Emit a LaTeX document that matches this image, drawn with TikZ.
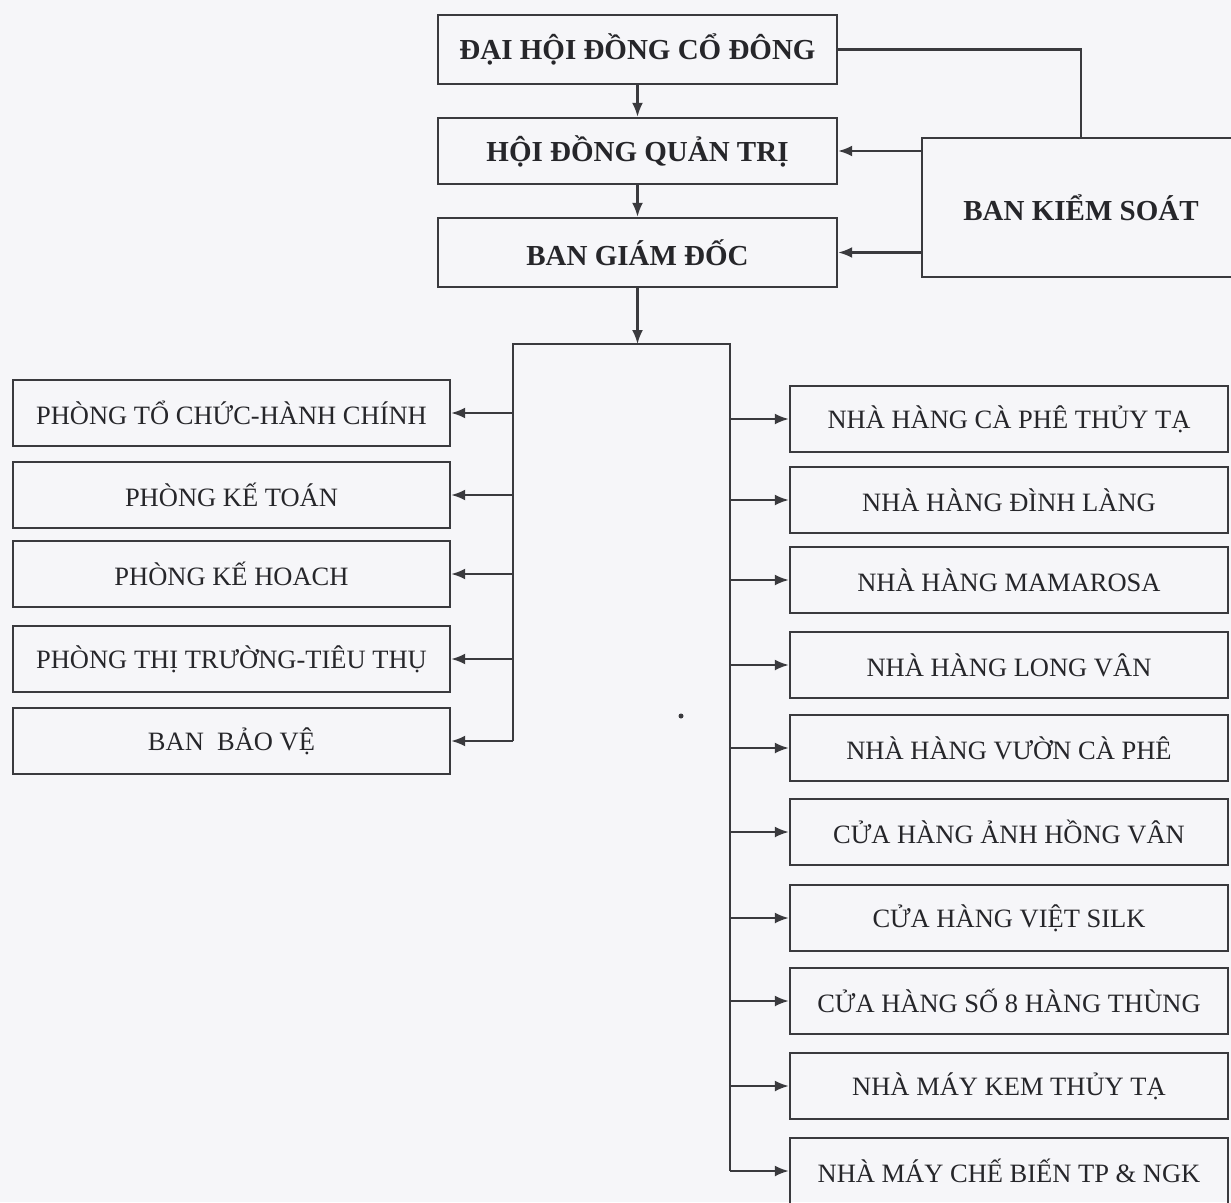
\documentclass[tikz,border=0pt]{standalone}
\usepackage{fontspec}
\setmainfont{Liberation Serif}
\usetikzlibrary{arrows.meta}
\definecolor{bgcol}{RGB}{246,246,249}
\definecolor{linecol}{RGB}{58,58,62}
\definecolor{txtcol}{RGB}{38,38,42}
\tikzset{
  boxbase/.style={draw=linecol, line width=2.4pt, inner sep=0pt, text=txtcol, anchor=center},
  topbox/.style={boxbase, minimum width=399pt, font=\fontsize{29}{31}\selectfont\bfseries},
  sidebox/.style={boxbase, minimum height=66pt, font=\fontsize{26.5}{28}\selectfont},
  leftbox/.style={sidebox, minimum width=437pt},
  rightbox/.style={sidebox, minimum width=438pt},
  conn/.style={draw=linecol, line width=2.1pt},
  arr/.style={conn, -{Latex[length=14pt,width=11pt]}}
}
\begin{document}
\begin{tikzpicture}[x=1pt,y=-1pt]
\fill[bgcol] (0,0) rectangle (1231,1202);
\useasboundingbox (0,0) rectangle (1231,1202);

% top chain
\node[topbox, minimum height=69pt] (dh) at (637.5,49.5) {ĐẠI HỘI ĐỒNG CỔ ĐÔNG};
\node[topbox, minimum height=66pt] (hq) at (637.5,151) {HỘI ĐỒNG QUẢN TRỊ};
\node[topbox, minimum height=69pt] (gd) at (637.5,252.5) {BAN GIÁM ĐỐC};
\node[boxbase, minimum width=318pt, minimum height=139pt, font=\fontsize{29}{31}\selectfont\bfseries] (ks) at (1081,207.5) {BAN KIỂM SOÁT};

\draw[arr] (dh.south) -- (hq.north);
\draw[arr] (hq.south) -- (gd.north);
\draw[conn] (dh.east) -| (ks.north);
\draw[arr] (ks.west |- hq.east) -- (hq.east);
\draw[arr] (ks.west |- gd.east) -- (gd.east);

% left boxes
\node[leftbox] (l1) at (231.5,413) {PHÒNG TỔ CHỨC-HÀNH CHÍNH};
\node[leftbox] (l2) at (231.5,495) {PHÒNG KẾ TOÁN};
\node[leftbox] (l3) at (231.5,574) {PHÒNG KẾ HOACH};
\node[leftbox] (l4) at (231.5,659) {PHÒNG THỊ TRƯỜNG-TIÊU THỤ};
\node[leftbox] (l5) at (231.5,741) {BAN~~BẢO VỆ};

% right boxes
\node[rightbox] (r1) at (1009,419) {NHÀ HÀNG CÀ PHÊ THỦY TẠ};
\node[rightbox] (r2) at (1009,500) {NHÀ HÀNG ĐÌNH LÀNG};
\node[rightbox] (r3) at (1009,580) {NHÀ HÀNG MAMAROSA};
\node[rightbox] (r4) at (1009,665) {NHÀ HÀNG LONG VÂN};
\node[rightbox] (r5) at (1009,748) {NHÀ HÀNG VƯỜN CÀ PHÊ};
\node[rightbox] (r6) at (1009,832) {CỬA HÀNG ẢNH HỒNG VÂN};
\node[rightbox] (r7) at (1009,918) {CỬA HÀNG VIỆT SILK};
\node[rightbox] (r8) at (1009,1001) {CỬA HÀNG SỐ 8 HÀNG THÙNG};
\node[rightbox] (r9) at (1009,1086) {NHÀ MÁY KEM THỦY TẠ};
\node[rightbox] (r10) at (1009,1171) {NHÀ MÁY CHẾ BIẾN TP \& NGK};

% distribution bus
\coordinate (bl) at (513,344);
\coordinate (br) at (730,344);
\draw[arr] (gd.south) -- (gd.south |- bl);
\draw[conn] (bl |- l5.east) -- (bl) -- (br) -- (br |- r10.west);
\foreach \n in {l1,l2,l3,l4,l5}
  \draw[arr] (bl |- \n.east) -- (\n.east);
\foreach \n in {r1,r2,r3,r4,r5,r6,r7,r8,r9,r10}
  \draw[arr] (br |- \n.west) -- (\n.west);

% stray mark
\fill[linecol] (681,716) circle (2.5pt);
\end{tikzpicture}
\end{document}
